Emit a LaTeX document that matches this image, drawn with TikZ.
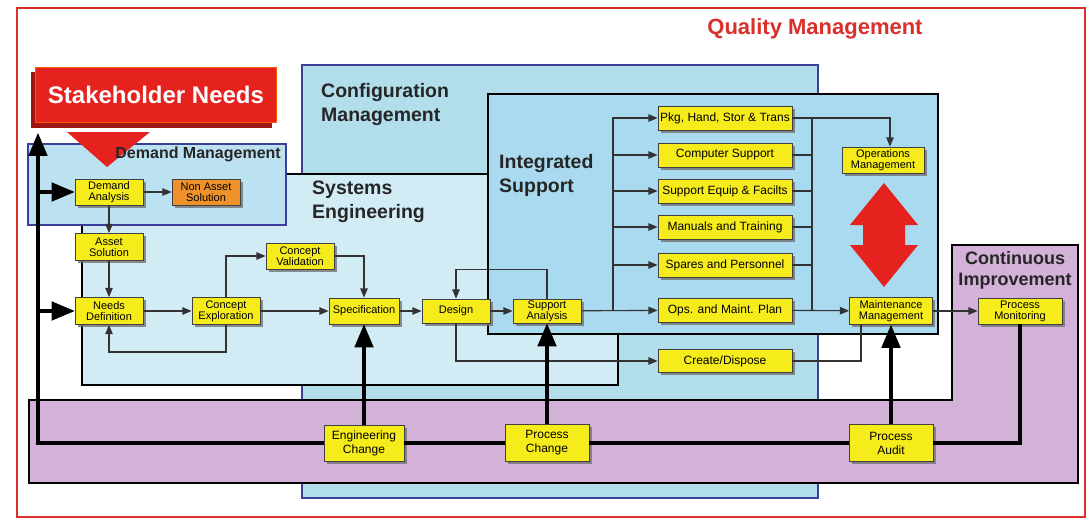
\documentclass[tikz,border=0pt]{standalone}
\usepackage{fontspec}
\setmainfont{Liberation Sans}
\usepackage{tikz}
\usetikzlibrary{arrows,shadows}

\definecolor{qmred}{HTML}{D9302C}
\definecolor{stakered}{HTML}{E5221E}
\definecolor{stakedark}{HTML}{9E1512}
\definecolor{boxyellow}{HTML}{F7EC1B}
\definecolor{nasorange}{HTML}{F0922B}
\definecolor{cfgblue}{HTML}{B2DDEB}
\definecolor{sysblue}{HTML}{D2ECF5}
\definecolor{isblue}{HTML}{A9DAEF}
\definecolor{dmblue}{HTML}{BCE2F2}
\definecolor{ciplum}{HTML}{D3B1D8}
\definecolor{edgeblue}{HTML}{3A3F9A}

\tikzset{
  blk/.style={draw=black!75, line width=0.9pt, fill=boxyellow, align=center, inner sep=0pt,
    minimum width=68pt, minimum height=26pt, font=\fontsize{11}{11}\selectfont,
    drop shadow={shadow xshift=2.5pt, shadow yshift=-2.5pt, fill=black!55, opacity=0.8}},
  wideblk/.style={blk, minimum width=134pt, minimum height=24pt, font=\fontsize{12}{13}\selectfont},
  lowblk/.style={blk, minimum width=84pt, minimum height=37pt, font=\fontsize{12}{14}\selectfont},
  flow/.style={draw=black!80, line width=1.1pt, -triangle 45},
  link/.style={draw=black!80, line width=1.1pt},
  feed/.style={draw=black, line width=4.5pt},
  title/.style={font=\fontsize{19.5}{24}\selectfont\bfseries, align=left, inner sep=0pt, text=black!85},
}

\begin{document}
\begin{tikzpicture}[x=1pt,y=-1pt]
    \useasboundingbox (0,0) rectangle (1092,519);
    \fill[white] (0,0) rectangle (1092,519);
    \draw[qmred, line width=1.3pt] (17,8) rectangle (1085,517);
    \node[font=\fontsize{22}{24}\selectfont\bfseries, text=qmred] (qm) at (815,29) {Quality Management};

    % regions
    \draw[edgeblue, line width=1.2pt, fill=cfgblue] (302,65) rectangle (818,498);
    \draw[black, line width=1.2pt, fill=sysblue] (82,174) rectangle (618,385);
    \draw[black, line width=1.5pt, fill=isblue] (488,94) rectangle (938,334);
    \draw[edgeblue, line width=1.5pt, fill=dmblue] (28,144) rectangle (286,225);
    \draw[black, line width=1.2pt, fill=ciplum] (29,400) -- (952,400) -- (952,245)
        -- (1078,245) -- (1078,483) -- (29,483) -- cycle;

    \node[title, anchor=north west] (cfg) at (321,83) {Configuration\\Management};
    \node[title, anchor=north west] (syseng) at (312,181) {Systems\\Engineering};
    \node[title, anchor=north west] (intsup) at (499,154) {Integrated\\Support};
    \node[title, align=center, font=\fontsize{18}{21}\selectfont\bfseries] (contimp) at (1015,270) {Continuous\\Improvement};

    % stakeholder needs
    \fill[stakered] (67,132) -- (150,132) -- (107,167) -- cycle;
    \node[draw=orange!70!red, fill=stakered, minimum width=241pt, minimum height=55pt,
          text=white, font=\fontsize{24}{26}\selectfont\bfseries,
          drop shadow={shadow xshift=-5pt, shadow yshift=-5pt, fill=stakedark, opacity=1}]
          (sn) at (156,95) {Stakeholder Needs};
    \node[anchor=north east, inner sep=1pt, font=\fontsize{16}{18}\selectfont\bfseries, text=black!85]
          (dm) at (282,146) {Demand Management};

    % operations <-> maintenance
    \fill[stakered] (884,183) -- (918,225) -- (905,225) -- (905,245) -- (918,245) -- (884,287)
        -- (850,245) -- (863,245) -- (863,225) -- (850,225) -- cycle;

    % boxes
    \node[blk] (da) at (109,192) {Demand\\Analysis};
    \node[blk, fill=nasorange] (nas) at (206,192) {Non Asset\\Solution};
    \node[blk, minimum height=27pt] (as) at (109,247) {Asset\\Solution};
    \node[blk, minimum height=27pt] (nd) at (109,311) {Needs\\Definition};
    \node[blk, minimum height=27pt] (ce) at (226,311) {Concept\\Exploration};
    \node[blk] (cv) at (300,256) {Concept\\Validation};
    \node[blk, minimum width=70pt] (spec) at (364,311) {Specification};
    \node[blk, minimum height=24pt] (des) at (456,311) {Design};
    \node[blk, minimum height=24pt] (sa) at (547,311) {Support\\Analysis};

    \node[wideblk] (pkg) at (725,118) {Pkg, Hand, Stor \& Trans};
    \node[wideblk] (cs) at (725,155) {Computer Support};
    \node[wideblk] (sef) at (725,191) {Support Equip \& Facilts};
    \node[wideblk] (mt) at (725,227) {Manuals and Training};
    \node[wideblk] (sp) at (725,265) {Spares and Personnel};
    \node[wideblk] (omp) at (725,310) {Ops. and Maint. Plan};
    \node[wideblk, minimum height=23pt] (cd) at (725,361) {Create/Dispose};

    \node[blk, minimum width=82pt] (om) at (883,160) {Operations\\Management};
    \node[blk, minimum width=83pt, minimum height=27pt] (mm) at (891,311) {Maintenance\\Management};
    \node[blk, minimum width=84pt] (pm) at (1020,311) {Process\\Monitoring};

    \node[lowblk, minimum width=80pt, minimum height=36pt] (ec) at (364,443) {Engineering\\Change};
    \node[lowblk] (pc) at (547,443) {Process\\Change};
    \node[lowblk] (pa) at (891,443) {Process\\Audit};

    % thin connectors
    \draw[flow] (da) -- (nas);
    \draw[flow] (da) -- (as);
    \draw[flow] (as) -- (nd);
    \draw[flow] (nd) -- (ce);
    \draw[flow] (ce.south) -- ++(0,27) -| (nd.south);
    \draw[flow] (ce.north) |- (cv.west);
    \draw[flow] (cv.east) -| (spec.north);
    \draw[flow] (ce) -- (spec);
    \draw[flow] (spec) -- (des);
    \draw[flow] (des) -- (sa);
    \draw[flow] (sa.north) -- ++(0,-29) -| (des.north);
    \draw[flow] (des.south) |- (cd.west);
    \draw[link] (cd.east) -| ([xshift=-30pt]mm.south);
    \draw[flow] (sa) -- (omp);

    \coordinate (lbus) at (613,311);
    \coordinate (rbus) at (812,311);
    \foreach \b in {pkg,cs,sef,mt,sp}{
        \draw[flow] (lbus) |- (\b.west);
        \draw[link] (\b.east) -| (rbus);
    }
    \draw[flow] (pkg.east) -| ([xshift=7pt]om.north);
    \draw[flow] (omp) -- (mm);
    \draw[flow] (mm) -- (pm);

    % feedback
    \coordinate (ltop) at (38,133);
    \coordinate (jda) at (38,192);
    \coordinate (jnd) at (38,311);
    \draw[feed] (pm.south) |- (pa.east);
    \draw[feed] (pa.west) -- (pc.east);
    \draw[feed] (pc.west) -- (ec.east);
    \draw[feed, -triangle 45] (ec.west) -| (ltop);
    \draw[feed, -triangle 45] (jda) -- (da.west);
    \draw[feed, -triangle 45] (jnd) -- (nd.west);
    \draw[feed, -triangle 45] (ec.north) -- (spec.south);
    \draw[feed, -triangle 45] (pc.north) -- (sa.south);
    \draw[feed, -triangle 45] (pa.north) -- (mm.south);
\end{tikzpicture}
\end{document}
